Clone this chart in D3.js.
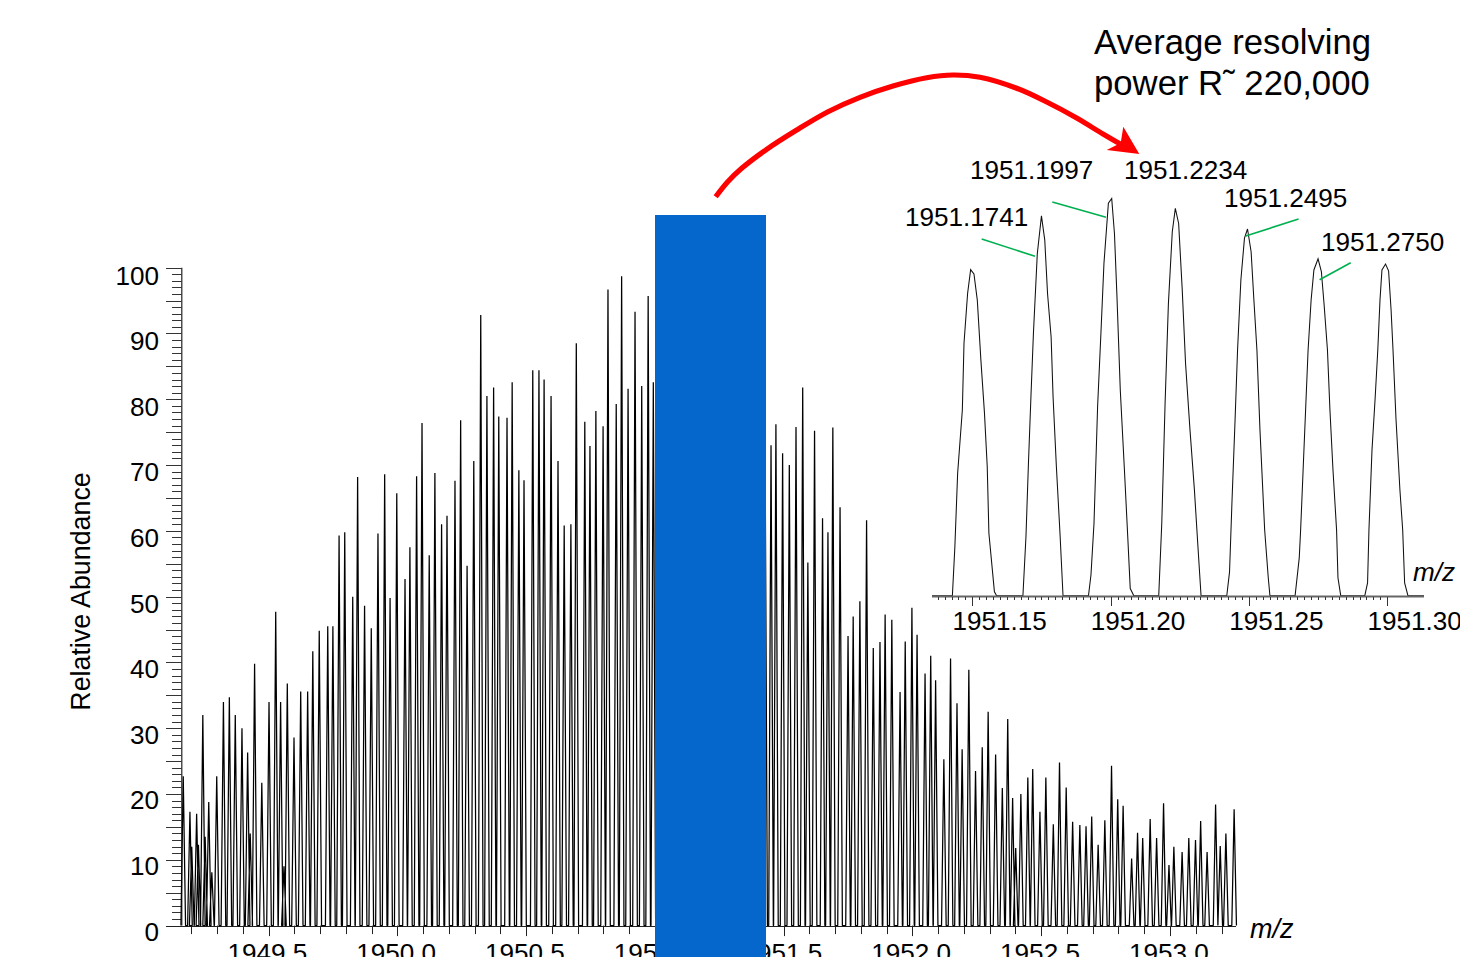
<!DOCTYPE html>
<html><head><meta charset="utf-8">
<script src="https://cdn.jsdelivr.net/npm/d3@7"></script>
<style>html,body{margin:0;padding:0;background:#fff;overflow:hidden}svg{display:block}text{font-family:"Liberation Sans",Arial,sans-serif;fill:#000}</style>
</head><body><svg id="c" width="1460" height="957"></svg>
<script>
// Main spectrum: apex m/z and relative abundance
const peakMz = [1949.169,1949.195,1949.202,1949.221,1949.228,1949.245,1949.254,1949.268,1949.280,1949.299,
1949.325,1949.348,1949.371,1949.397,1949.419,1949.429,1949.446,1949.474,1949.502,1949.528,
1949.547,1949.560,1949.573,1949.599,1949.625,1949.652,1949.672,1949.697,1949.730,1949.750,
1949.774,1949.796,1949.827,1949.846,1949.873,1949.899,1949.925,1949.951,1949.972,1949.998,
1950.030,1950.049,1950.075,1950.096,1950.124,1950.146,1950.172,1950.193,1950.224,1950.246,
1950.271,1950.297,1950.324,1950.348,1950.374,1950.394,1950.426,1950.446,1950.472,1950.492,
1950.526,1950.550,1950.570,1950.597,1950.624,1950.648,1950.674,1950.695,1950.728,1950.748,
1950.771,1950.799,1950.818,1950.850,1950.871,1950.896,1950.923,1950.949,1950.974,1950.994,
1951.020,1951.046,1951.072,1951.098,1951.122,1951.148,1951.1741,1951.1997,1951.2234,1951.2495,
1951.2750,1951.3005,1951.326,1951.352,1951.378,1951.403,1951.428,
1951.451,1951.470,1951.496,1951.522,1951.548,1951.574,1951.594,1951.620,1951.651,1951.672,
1951.691,1951.719,1951.750,1951.770,1951.796,1951.822,1951.848,1951.874,1951.894,1951.920,
1951.952,1951.972,1951.998,1952.018,1952.049,1952.071,1952.090,1952.122,1952.148,1952.173,
1952.193,1952.219,1952.245,1952.271,1952.294,1952.323,1952.349,1952.370,1952.389,1952.401,
1952.421,1952.448,1952.467,1952.495,1952.518,1952.547,1952.571,1952.597,1952.622,1952.650,
1952.674,1952.696,1952.721,1952.747,1952.773,1952.797,1952.818,1952.851,1952.874,1952.894,
1952.923,1952.948,1952.975,1952.996,1953.015,1953.047,1953.073,1953.099,1953.119,1953.144,
1953.177,1953.195,1953.217,1953.249];
const peakAbundance = [22.7,17.3,12,17,12.3,32,13.5,18.8,8.1,22.7,
34,34.7,32,30,26.3,14,39.8,21.7,34,47.7,
34,9,36.8,28.6,35.6,35.6,41.7,44.8,45.5,45.5,
59.3,59.8,50,68.2,48.6,45.2,59.6,68.6,49.8,65.7,
52.7,57.5,68.3,76.4,56.3,68.8,61,62.3,67.6,76.8,
54.7,70.6,92.8,80.5,81.8,77.4,77.2,82.6,69.2,67.7,
84.4,84.4,83,80.5,70.6,60.8,61,88.5,76.6,72.9,
78.2,75.9,96.7,79.3,98.7,81.6,93.3,82,95.7,82.6,
90,84,96,80,92,83,95.5,100,97.5,92.2,
84.7,83.4,78,80,74,76,72,
73,76.2,71.8,70,75.8,81.8,55.2,75.2,61.9,59.8,
75.7,63.6,44,47,49.3,61.6,42.2,43.1,47.3,46.5,
35.5,43.2,48.3,44.2,38.3,41,37.3,25.3,40.6,33.8,
26.8,38.9,23.5,27.1,32.5,26,20.9,31.4,19.4,11.8,
20,22.5,23.8,17.3,22.5,15.4,24.8,21,15.8,15.3,
15.1,16.6,12.3,16,24.3,19.2,18.2,10.2,14.1,13.3,
16.2,13.3,18.6,9.2,12,11.2,13.3,13,15.9,11.2,
18.4,12.1,14,17.7];

// Inset: sampled profile of each isotope peak
const insetPeakMz = [
[1951.1428,1951.1437,1951.1447,1951.1464,1951.1470,1951.1483,1951.1494,1951.1506,1951.1518,1951.1531,1951.1544,1951.1554,1951.1560,1951.1580,1951.1588],
[1951.1683,1951.1694,1951.1703,1951.1712,1951.1721,1951.1735,1951.1750,1951.1762,1951.1772,1951.1785,1951.1792,1951.1804,1951.1817,1951.1828],
[1951.1920,1951.1929,1951.1940,1951.1953,1951.1965,1951.1976,1951.1992,1951.2004,1951.2014,1951.2023,1951.2035,1951.2050,1951.2062,1951.2071,1951.2084],
[1951.2174,1951.2185,1951.2197,1951.2209,1951.2223,1951.2234,1951.2246,1951.2259,1951.2271,1951.2287,1951.2303,1951.2315,1951.2327],
[1951.2420,1951.2430,1951.2439,1951.2450,1951.2459,1951.2471,1951.2484,1951.2495,1951.2508,1951.2518,1951.2529,1951.2540,1951.2557,1951.2570,1951.2576],
[1951.2667,1951.2682,1951.2687,1951.2696,1951.2705,1951.2714,1951.2725,1951.2735,1951.2750,1951.2762,1951.2772,1951.2784,1951.2793,1951.2804,1951.2817,1951.2822,1951.2832],
[1951.2919,1951.2929,1951.2934,1951.2945,1951.2956,1951.2966,1951.2974,1951.2981,1951.2994,1951.3005,1951.3014,1951.3021,1951.3032,1951.3046,1951.3056,1951.3063,1951.3075]
];
const insetPeakAbundance = [
[0,12.3,30.8,46.7,63.5,76,82,80.9,74.4,59.3,45.9,32.4,15.7,1,0],
[0,14.8,33.3,50,66,86,95.5,89.4,76,65,50,32.4,15.7,0],
[0,5.2,18.2,47.5,66,83.6,98.7,99.9,91,75.2,51.7,31.6,14.8,1.8,0],
[0,18.2,48.4,73.5,91.5,97.4,93.6,76.9,58.4,41.7,26.6,13.2,0],
[0,6,24,44.2,61.8,79.4,89.9,92.2,86.5,74.4,61.8,41.7,16.5,4.5,0],
[0,9.5,16.5,31.6,46.7,61.8,74.4,81.9,84.7,81.5,73.1,61.8,46.7,31.6,16.5,4.5,0],
[0,3.2,16.5,36.6,49.2,61.8,74.4,81.9,83.4,81.7,71.9,61.8,44.2,26.6,16.5,3.2,0]
];

const yTickLabels = ["0","10","20","30","40","50","60","70","80","90","100"];
const xTickLabels = ["1949.5","1950.0","1950.5","1951.0","1951.5","1952.0","1952.5","1953.0"];
const insetTickLabels = ["1951.15","1951.20","1951.25","1951.30"];
const peakLabels = ["1951.1741","1951.1997","1951.2234","1951.2495","1951.2750"];
const titleLines = ["Average resolving","power R˜ 220,000"];

// Layout
const svg = d3.select("#c");
const x = d3.scaleLinear().domain([1949.5,1953.0]).range([268.5,1170]);
const y = d3.scaleLinear().domain([0,100]).range([925.6,267.7]);
const ix = d3.scaleLinear().domain([1951.15,1951.30]).range([972.3,1387.2]);
const iy = d3.scaleLinear().domain([0,100]).range([595.7,198]);
const yLabel = d3.scaleLinear().domain([0,100]).range([940.5,284.5]);
const FONT = 26.1;
const halfBase = 0.009; // half-width of a main-chart peak at its foot, in m/z

function seg(g,x1,y1,x2,y2,w,c){g.append("line").attr("x1",x1).attr("y1",y1).attr("x2",x2).attr("y2",y2).attr("stroke",c||"#000").attr("stroke-width",w||1);}
function txt(s,px,py,size,anchor,italic){const t=svg.append("text").attr("x",px).attr("y",py).attr("font-size",size).attr("text-anchor",anchor||"start").text(s);if(italic)t.attr("font-style","italic");return t;}

// Y axis
const ax = svg.append("g");
const axisX = 181.8;
seg(ax,axisX,y(100),axisX,y(0),1.2,"#222");
d3.range(0,101).forEach(v=>{
  const major = v%5===0;
  seg(ax,major?166:172,Math.round(y(v))+.5,axisX,Math.round(y(v))+.5,1,"#333");
});
yTickLabels.forEach(l=>txt(l,159,yLabel(+l),FONT,"end"));
txt("Relative Abundance",0,0,26.8).attr("text-anchor","middle").attr("transform","translate(89.5,591.5) rotate(-90)");

// X axis
seg(ax,166,Math.round(y(0))+.5,1236,Math.round(y(0))+.5,1.2,"#222");
d3.range(0,41).map(i=>1949.2+i*0.1).filter(m=>x(m)<1232).forEach(m=>{
  const px=Math.round(x(m))+.5;
  seg(ax,px,y(0),px,y(0)+(Math.abs((m*2)%1)<.02||Math.abs((m*2)%1)>.98?10.5:8.5),1,"#222");
});
xTickLabels.forEach(l=>txt(l,x(+l)-1.2,961.7,FONT,"middle"));
txt("m/z",1250,937.7,27,"start",true);

// Main spectrum
const line = d3.line().x(d=>x(d[0])).y(d=>y(d[1]));
const mainPts = [];
peakMz.forEach((m,i)=>{mainPts.push([m-halfBase,0],[m,peakAbundance[i]],[m+halfBase,0]);});
svg.append("path").attr("d",line(mainPts)).attr("fill","none").attr("stroke","#000").attr("stroke-width",1.25).attr("stroke-linejoin","bevel");

// Blue block
svg.append("rect").attr("x",655).attr("y",215).attr("width",111).attr("height",742).attr("fill","#0566CC");

// Inset
const iline = d3.line().x(d=>ix(d[0])).y(d=>iy(d[1]));
const insetPts = [[ix.invert(932),0]];
insetPeakMz.forEach((arr,k)=>arr.forEach((m,j)=>insetPts.push([m,insetPeakAbundance[k][j]])));
insetPts.push([ix.invert(1424),0]);
svg.append("path").attr("d",iline(insetPts)).attr("fill","none").attr("stroke","#111").attr("stroke-width",1.05);
const iax=svg.append("g");
seg(iax,932,596.5,1424,596.5,2,"#666");
d3.range(0,66).map(i=>1951.1375+i*0.0025).filter(m=>ix(m)>=936&&ix(m)<=1424).forEach((m,i)=>{
  const px=Math.round(ix(m))+.5;
  const maj=Math.abs((m/0.05)-Math.round(m/0.05))<.01;
  seg(iax,px,597,px,597+(maj?9:3),1,"#333");
});
insetTickLabels.forEach(l=>txt(l,ix(+l)+27.4,630,FONT,"middle"));
txt("m/z",1413,580.7,FONT,"start",true);

// Peak labels
const peakLabelX = [905,970,1124,1224,1321], peakLabelY = [226,179,179,206.7,250.7];
peakLabels.forEach((l,i)=>txt(l,peakLabelX[i],peakLabelY[i],FONT));
const leaders = [[981.7,239,1035,256.3],[1052.3,202,1106,217.3],[1298.6,219,1245.7,236],[1350.7,262.7,1319.6,279.7]];
leaders.forEach(d=>seg(svg,d[0],d[1],d[2],d[3],1.6,"#00B050"));

// Title
txt(titleLines[0],1094,54,34.7);
txt(titleLines[1],1094,95,34.7);

// Red arrow
const arrowPath = [[715.7,196.7],[728,181.5],[741.7,168.3],[766.7,149.3],[796.7,130],[828,111.7],[860,97.3],[893,86],[926.7,77.7],[953,75],[980,77.3],[1016.7,88.3],[1046.7,102],[1076.7,118],[1103,134],[1122,145]];
svg.append("path").attr("d",d3.line().curve(d3.curveCatmullRom)(arrowPath)).attr("fill","none").attr("stroke","#FF0000").attr("stroke-width",5.2);
svg.append("path").attr("d","M1139.3,154 L1123.3,126.7 L1120.7,143 L1106.7,150 Z").attr("fill","#FF0000");
</script></body></html>
